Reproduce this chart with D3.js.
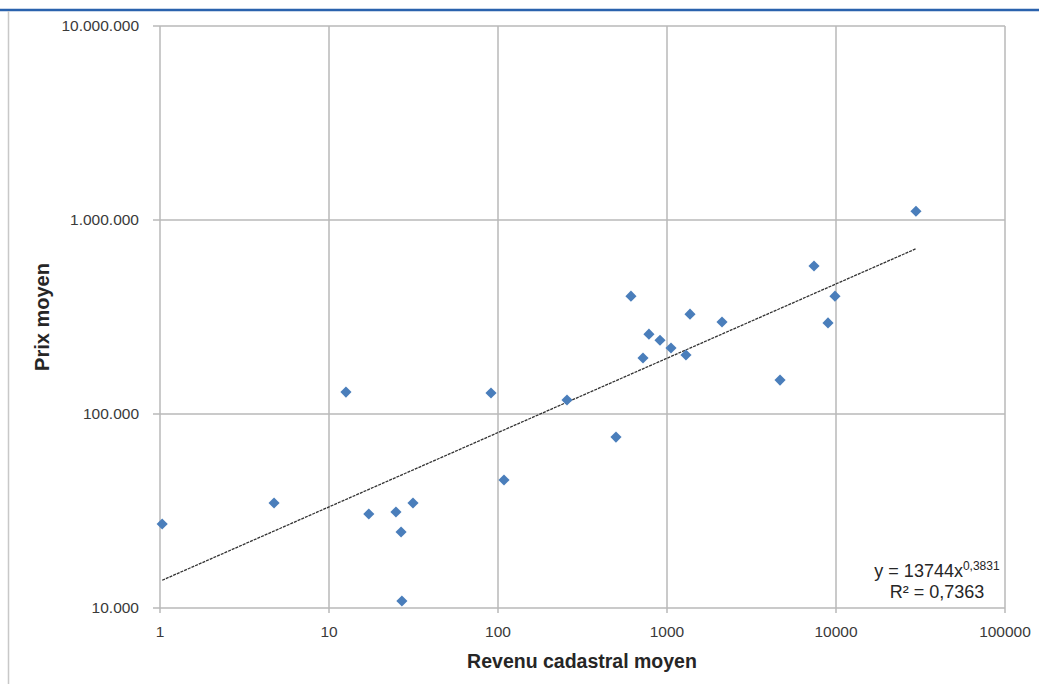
<!doctype html>
<html>
  <head>
    <meta charset="UTF-8"/>
    <title>Prix moyen / Revenu cadastral moyen</title>
    <script src="https://d3js.org/d3.v7.min.js"></script>
    <style>
      body {
          margin: 0;
          padding: 0;
          background: #fff;
      }
      svg text {
          font-family: "Liberation Sans", Arial, sans-serif;
      }
    </style>
  </head>
  <body>
    <svg id="chart" width="1039" height="684"></svg>
    <script>
      // data
      const revenu = [1.03, 4.73, 12.6, 17.2, 24.9, 26.7, 31.4, 27.0, 90.9, 108.5,
                      256, 499, 612, 721, 782, 909, 1056, 1295, 1368, 2116,
                      4665, 7410, 8970, 9860, 29730];
      const prix = [27100, 34750, 129700, 30500, 31250, 24650, 34750, 10870, 128300, 45700,
                    118000, 76000, 405000, 194500, 258000, 240000, 219000, 201500, 327000, 298000,
                    149600, 579000, 294700, 405000, 1110000];
      const xTicks = [1, 10, 100, 1000, 10000, 100000];
      const yTicks = [10000, 100000, 1000000, 10000000];
      const trendA = 13744, trendB = 0.3831;
      const r2 = "0,7363";

      const svg = d3.select("#chart");
      const x = d3.scaleLog().domain([1, 100000]).range([160, 1005]);
      const y = d3.scaleLog().domain([10000, 10000000]).range([608, 26]);
      const fr = d3.formatLocale({decimal: ",", thousands: ".", grouping: [3], currency: ["", ""]});
      const fmtY = fr.format(",d");

      // frame bits around the chart
      svg.append("line").attr("x1", 0).attr("x2", 1039).attr("y1", 10).attr("y2", 10)
        .attr("stroke", "#2a62ad").attr("stroke-width", 2.5);
      svg.append("line").attr("x1", 8.5).attr("x2", 8.5).attr("y1", 11).attr("y2", 684)
        .attr("stroke", "#c8c8c8").attr("stroke-width", 1.5);

      // grid
      const grid = svg.append("g").attr("stroke", "#b8b8b8").attr("stroke-width", 1.5);
      grid.selectAll(".gx").data(xTicks).join("line")
        .attr("x1", d => x(d)).attr("x2", d => x(d))
        .attr("y1", y(10000000)).attr("y2", y(10000) + 5);
      grid.selectAll(".gy").data(yTicks).join("line")
        .attr("x1", x(1) - 7).attr("x2", x(100000))
        .attr("y1", d => y(d)).attr("y2", d => y(d));

      // tick labels
      svg.append("g").selectAll("text").data(yTicks).join("text")
        .attr("x", 139).attr("y", d => y(d)).attr("dy", "0.35em")
        .attr("text-anchor", "end").attr("font-size", 15.5).attr("fill", "#3a3a3a")
        .text(d => fmtY(d));
      svg.append("g").selectAll("text").data(xTicks).join("text")
        .attr("x", d => x(d)).attr("y", 632).attr("dy", "0.35em")
        .attr("text-anchor", "middle").attr("font-size", 15.5).attr("fill", "#3a3a3a")
        .text(d => d);

      // axis titles
      svg.append("text").attr("x", 582).attr("y", 661).attr("dy", "0.35em")
        .attr("text-anchor", "middle").attr("font-size", 19.5).attr("font-weight", "bold")
        .attr("fill", "#262626").text("Revenu cadastral moyen");
      svg.append("text").attr("transform", "translate(42,317) rotate(-90)").attr("dy", "0.35em")
        .attr("text-anchor", "middle").attr("font-size", 20).attr("font-weight", "bold")
        .attr("fill", "#262626").text("Prix moyen");

      // trend line
      const ext = d3.extent(revenu);
      svg.append("path")
        .datum(ext.map(v => [v, trendA * Math.pow(v, trendB)]))
        .attr("d", d3.line().x(d => x(d[0])).y(d => y(d[1])))
        .attr("fill", "none").attr("stroke", "#333").attr("stroke-width", 1.3)
        .attr("stroke-dasharray", "3,1");

      // points
      const pts = revenu.map((v, i) => [v, prix[i]]);
      svg.append("g").selectAll("path").data(pts).join("path")
        .attr("d", d3.symbol(d3.symbolSquare, 62))
        .attr("transform", d => `translate(${x(d[0])},${y(d[1])}) rotate(45)`)
        .attr("fill", "#4a7ebb");

      // equation
      const eq = svg.append("text").attr("x", 937).attr("y", 571).attr("dy", "0.35em")
        .attr("text-anchor", "middle").attr("font-size", 18).attr("fill", "#262626");
      eq.append("tspan").text("y = " + trendA + "x");
      eq.append("tspan").attr("font-size", 12).attr("dy", "-0.6em").text(String(trendB).replace(".", ","));
      svg.append("text").attr("x", 937).attr("y", 592).attr("dy", "0.35em")
        .attr("text-anchor", "middle").attr("font-size", 18).attr("fill", "#262626")
        .text("R² = " + r2);
    </script>
  </body>
</html>
